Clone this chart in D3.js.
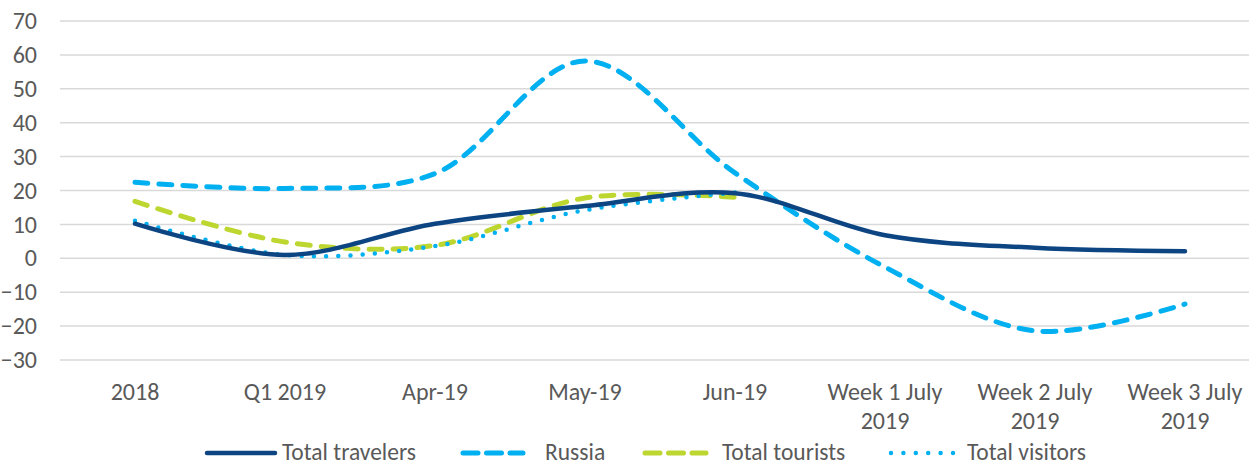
<!DOCTYPE html>
<html>
<head>
<meta charset="utf-8">
<script src="https://cdn.jsdelivr.net/npm/d3@7"></script>
<style>
  body { margin: 0; background: #fff; }
  text { font-family: Calibri, Carlito, "Open Sans", sans-serif; fill: #595959; }
</style>
</head>
<body>
<div id="chart"></div>
<script>
// chart data
var categories = ["2018", "Q1 2019", "Apr-19", "May-19", "Jun-19",
  "Week 1 July 2019", "Week 2 July 2019", "Week 3 July 2019"];
var yTicks = [-30, -20, -10, 0, 10, 20, 30, 40, 50, 60, 70];

var travelers = [10.2, 1.0, 10.2, 15.4, 19.2, 6.8, 3.1, 2.1];
var russia = [22.4, 20.6, 25.0, 58.2, 25.2, -2.6, -21.4, -13.5];
var tourists = [16.8, 4.8, 3.8, 17.8, 18.0];
var visitors = [11.1, 1.0, 3.6, 14.2, 19.4];

var seriesNames = ["Total travelers", "Russia", "Total tourists", "Total visitors"];

var svgWidth = 1249;
var svgHeight = 464;

var margin = { top: 21, right: -11, bottom: 104, left: 60 };
var width = svgWidth - margin.left - margin.right;
var height = svgHeight - margin.top - margin.bottom;

var svg = d3.select("#chart")
  .append("svg")
  .attr("width", svgWidth)
  .attr("height", svgHeight);

var chartGroup = svg.append("g")
  .attr("transform", `translate(${margin.left}, ${margin.top})`);

var xScale = d3.scaleBand()
  .domain(categories)
  .range([0, width]);

var yScale = d3.scaleLinear()
  .domain([-30, 70])
  .range([height, 0]);

// gridlines
chartGroup.append("g")
  .selectAll("line")
  .data(yTicks)
  .enter()
  .append("line")
  .attr("x1", 0)
  .attr("x2", svgWidth - margin.left)
  .attr("y1", d => yScale(d))
  .attr("y2", d => yScale(d))
  .attr("stroke", "#d9d9d9")
  .attr("stroke-width", 1.5);

// y axis labels
var leftAxis = d3.axisLeft(yScale).tickValues(yTicks).tickSize(0).tickPadding(23);
var yAxis = chartGroup.append("g").call(leftAxis);
yAxis.select(".domain").remove();
yAxis.selectAll("text")
  .style("font-size", "24px")
  .style("font-family", "Calibri, Carlito, 'Open Sans', sans-serif")
  .attr("fill", "#595959");

// x axis labels, wrapping long ones on two lines
var xLabels = chartGroup.append("g")
  .attr("transform", `translate(0, ${height})`);

categories.forEach(function(c) {
  var lines = c.indexOf("Week") === 0 ? [c.replace(" 2019", ""), "2019"] : [c];
  var t = xLabels.append("text")
    .attr("x", xScale(c) + xScale.bandwidth() / 2)
    .attr("y", 40)
    .attr("text-anchor", "middle")
    .style("font-size", "24px");
  lines.forEach(function(l, i) {
    t.append("tspan")
      .attr("x", xScale(c) + xScale.bandwidth() / 2)
      .attr("dy", i === 0 ? 0 : 29)
      .text(l);
  });
});

var cx = (d, i) => xScale(categories[i]) + xScale.bandwidth() / 2;
var line = d3.line()
  .x(cx)
  .y(d => yScale(d))
  .curve(d3.curveCatmullRom.alpha(0.5));

var styles = [
  { color: "#0c4582", width: 4.5, dash: null },
  { color: "#00b0f0", width: 5, dash: "13 11" },
  { color: "#bed630", width: 5, dash: "13 11" },
  { color: "#00b0f0", width: 4.5, dash: "0 12.2" }
];
var allSeries = [travelers, russia, tourists, visitors];

// draw order: tourists & visitors under russia & travelers
[1, 2, 3, 0].forEach(function(k) {
  var s = styles[k];
  chartGroup.append("path")
    .datum(allSeries[k])
    .attr("d", line)
    .attr("fill", "none")
    .attr("stroke", s.color)
    .attr("stroke-width", s.width)
    .attr("stroke-linecap", "round")
    .attr("stroke-dasharray", s.dash);
});

// legend
var legendItems = [
  { x: 207, len: 68, tx: 282, dash: null },
  { x: 463, len: 60, tx: 545, dash: "15 8.5" },
  { x: 645, len: 61, tx: 722, dash: "15 8.5" },
  { x: 891, len: 62, tx: 967, dash: "0 12.4" }
];
var legend = svg.append("g").attr("transform", "translate(0, 452)");
legendItems.forEach(function(item, k) {
  var s = styles[k];
  legend.append("line")
    .attr("x1", item.x)
    .attr("x2", item.x + item.len)
    .attr("y1", 1)
    .attr("y2", 1)
    .attr("stroke", s.color)
    .attr("stroke-width", s.width)
    .attr("stroke-linecap", "round")
    .attr("stroke-dasharray", item.dash);
  legend.append("text")
    .attr("x", item.tx)
    .attr("y", 0)
    .attr("dy", "0.33em")
    .style("font-size", "23.5px")
    .text(seriesNames[k]);
});
</script>
</body>
</html>
